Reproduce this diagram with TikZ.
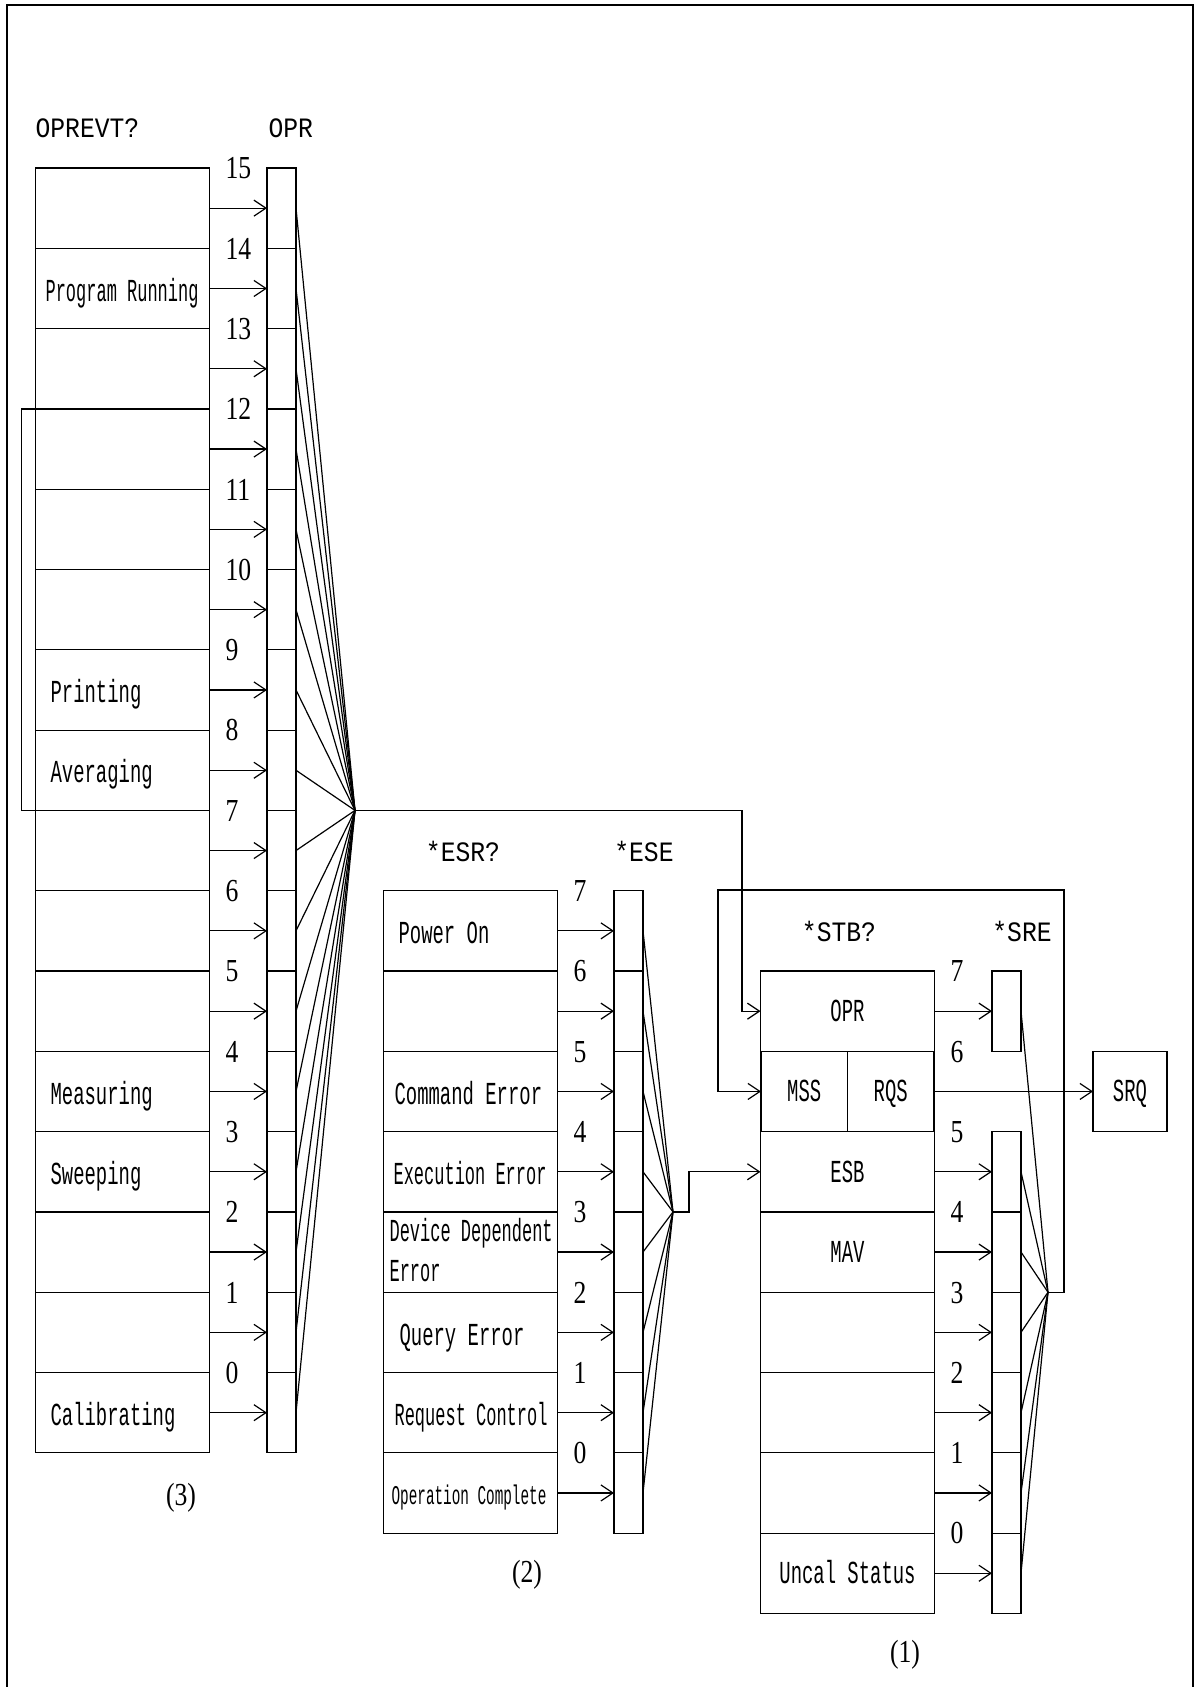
\documentclass[tikz,border=0pt]{standalone}
\usepackage{fontspec}
\usetikzlibrary{arrows.meta}
\newfontfamily\regfont{Liberation Mono}[FakeStretch=0.59]
\newfontfamily\tightfont{Liberation Mono}[FakeStretch=0.53]
\newfontfamily\headfont{Liberation Mono}[FakeStretch=0.88]
\newfontfamily\numfont{Liberation Serif}[FakeStretch=0.8]
\def\pxu{0.4992pt}
\def\rowh{80.3}
\tikzset{>={Straight Barb[length=6pt,width=8pt]}}
\tikzset{
    regcell/.style={draw, inner sep=0pt, outer sep=0pt, minimum width=174*\pxu, minimum height=\rowh*\pxu,
        font=\regfont\fontsize{16}{16}\selectfont, text height=10.5pt, text depth=0pt},
    halfcell/.style={regcell, minimum width=86.5*\pxu},
    encell/.style={draw, inner sep=0pt, outer sep=0pt, minimum width=29*\pxu, minimum height=\rowh*\pxu},
    rowlbl/.style={anchor=west, inner sep=0pt, font=\regfont\fontsize{16}{16}\selectfont, text height=10.5pt, text depth=0pt},
    tightlbl/.style={rowlbl, font=\tightfont\fontsize{16}{16}\selectfont},
    smalllbl/.style={rowlbl, font=\tightfont\fontsize{13.5}{13.5}\selectfont, text height=9pt},
    bitnum/.style={rowlbl, font=\numfont\fontsize{16}{16}\selectfont, text height=10.8pt},
    headlbl/.style={inner sep=0pt, font=\headfont\fontsize{14}{14}\selectfont, text height=9pt, text depth=0pt},
}

\begin{document}
\begin{tikzpicture}[x=\pxu, y=-\pxu, line width=0.6pt]
    \useasboundingbox (0,0) rectangle (1197,1687);
    \draw (7,1687) -- (7,5) -- (1193,5) -- (1193,1687);

    % (3) OPREVT? and OPR
    \node[headlbl, anchor=west] (hopevt) at (35,128) {OPREVT?};
    \node[headlbl, anchor=west] (hopr) at (268,128) {OPR};
    \coordinate (fanA) at (355,810.4);
    \foreach \i [evaluate=\i as \yc using 208.15+(15-\i)*\rowh] in {0,...,15} {
        \node[regcell] (oR\i) at (122.5,\yc) {};
        \node[encell] (oE\i) at (281.5,\yc) {};
        \node[bitnum] (oN\i) at (225,\yc-40.15) {\i};
        \draw[->] (oR\i) -- (oE\i);
        \draw (oE\i.east) -- (fanA);
    }
    \node[tightlbl] (lprog) at (45,290.5) {Program Running};
    \node[rowlbl] (lprint) at (50,692) {Printing};
    \node[rowlbl] (laver) at (50,772) {Averaging};
    \node[rowlbl] (lmeas) at (50,1093.5) {Measuring};
    \node[rowlbl] (lsweep) at (50,1174) {Sweeping};
    \node[rowlbl] (lcal) at (50,1414.5) {Calibrating};
    \draw (oR12.north west) -- ++(-14,0) |- (oR7.north west);
    \node[bitnum, anchor=center] (c3) at (181,1495) {(3)};

    % (2) *ESR? and *ESE
    \node[headlbl] (hesr) at (463,852) {*ESR?};
    \node[headlbl] (hese) at (644,852) {*ESE};
    \coordinate (fanB) at (673,1211.9);
    \foreach \i [evaluate=\i as \yc using 930.85+(7-\i)*\rowh] in {0,...,7} {
        \node[regcell] (sR\i) at (470.5,\yc) {};
        \node[encell] (sE\i) at (628.5,\yc) {};
        \node[bitnum] (sN\i) at (573,\yc-40.15) {\i};
        \draw[->] (sR\i) -- (sE\i);
        \draw (sE\i.east) -- (fanB);
    }
    \node[rowlbl] (lpow) at (398,933) {Power On};
    \node[rowlbl] (lcmd) at (394,1093.5) {Command Error};
    \node[tightlbl] (lexe) at (393,1174) {Execution Error};
    \node[tightlbl] (ldev) at (389,1231) {Device Dependent};
    \node[tightlbl] (ldev2) at (389,1271) {Error};
    \node[rowlbl] (lqry) at (399,1334.5) {Query Error};
    \node[tightlbl] (lreq) at (394,1414.5) {Request Control};
    \node[smalllbl] (lopc) at (391,1495) {Operation Complete};
    \node[bitnum, anchor=center] (c2) at (527,1572) {(2)};

    % (1) *STB? and *SRE
    \node[headlbl] (hstb) at (839,932) {*STB?};
    \node[headlbl] (hsre) at (1022,932) {*SRE};
    \coordinate (fanC) at (1048,1292.2);
    \foreach \i [evaluate=\i as \yc using 971+(7-\i)*\rowh] in {0,...,7}
        \node[bitnum] (tN\i) at (950,\yc) {\i};
    \foreach \i/\txt [evaluate=\i as \yc using 1011.15+(7-\i)*\rowh] in {7/OPR,5/ESB,4/MAV,3/,2/,1/,0/Uncal Status} {
        \node[regcell] (tR\i) at (847.5,\yc) {\txt};
        \node[encell] (tE\i) at (1006.5,\yc) {};
        \draw[->] (tR\i) -- (tE\i);
        \draw (tE\i.east) -- (fanC);
    }
    \node[halfcell] (tMSS) at (804.25,1091.45) {MSS};
    \node[halfcell] (tRQS) at (890.75,1091.45) {RQS};
    \node[regcell, minimum width=74*\pxu] (srq) at (1130,1091.45) {SRQ};
    \draw[->] (tRQS) -- (srq);
    \node[bitnum, anchor=center] (c1) at (905,1652) {(1)};

    % summary lines
    \coordinate (bendA) at (742,1011.15);
    \draw[->] (fanA) -| (bendA) -- (tR7.west);
    \draw[->] (fanB) -- ++(16,0) |- (tR5.west);
    \coordinate (loopC) at (718,890);
    \draw[->] (fanC) -- ++(16,0) |- (loopC) |- (tMSS.west);
\end{tikzpicture}
\end{document}
